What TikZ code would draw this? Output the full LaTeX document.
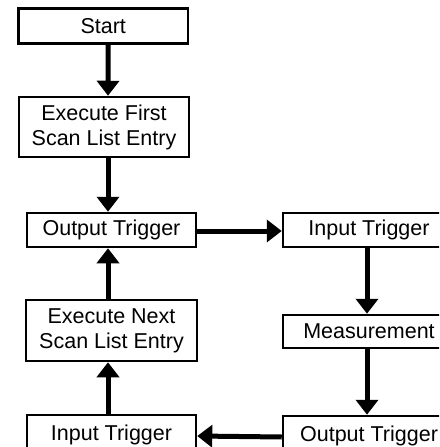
\documentclass[tikz,border=0pt]{standalone}
\usepackage{fontspec}
\setmainfont{Liberation Sans}
\usetikzlibrary{arrows.meta}
\begin{document}
\begin{tikzpicture}[
  box/.style={draw, line width=2.5pt, align=center, inner sep=0pt,
    font=\fontsize{21.5}{25}\selectfont},
  flow/.style={line width=5pt, -{Triangle[length=15pt,width=22pt]}}]
\useasboundingbox (0pt,0pt) rectangle (439pt,-447pt);
\fill[white] (0pt,0pt) rectangle (439pt,-447pt);
\begin{scope}
\clip (0pt,0pt) rectangle (439pt,-447pt);
% left column
\node[box, minimum width=169.5pt, minimum height=35pt] (start) at (103.25pt,-26pt) {Start};
\node[box, minimum width=170pt, minimum height=60pt] (exec1) at (104pt,-127pt) {Execute First\\Scan List Entry};
\node[box, minimum width=169pt, minimum height=34pt] (outL) at (111.5pt,-230pt) {Output Trigger};
\node[box, minimum width=171pt, minimum height=61pt] (execN) at (111.5pt,-330.5pt) {Execute Next\\Scan List Entry};
\node[box, minimum width=169pt, minimum height=40pt] (inL) at (111.5pt,-435pt) {Input Trigger};
% right column
\node[box, minimum width=172pt, minimum height=34pt] (inR) at (369pt,-230pt) {Input Trigger};
\node[box, minimum width=172pt, minimum height=33pt] (meas) at (369pt,-331.5pt) {Measurement};
\node[box, minimum width=172pt, minimum height=40pt] (outR) at (369pt,-436pt) {Output Trigger};
% connectors
\draw[flow] ([xshift=5pt]start.south) -- ([xshift=4pt]exec1.north);
\draw[flow] ([xshift=4pt]exec1.south) -- ([xshift=-3.5pt]outL.north);
\draw[flow] ([xshift=-3.5pt]execN.north) -- ([xshift=-3.5pt]outL.south);
\draw[flow] ([xshift=-3.5pt]inL.north) -- ([xshift=-3.5pt]execN.south);
\draw[flow] ([yshift=-1pt]outL.east) -- ([yshift=-1pt]inR.west);
\draw[flow] ([xshift=-2pt]inR.south) -- ([xshift=-2pt]meas.north);
\draw[flow] ([xshift=-2pt]meas.south) -- ([xshift=-2pt]outR.north);
\draw[flow] ([yshift=-1pt]outR.west) -- ([yshift=-1pt]inL.east);
\end{scope}
\end{tikzpicture}
\end{document}
